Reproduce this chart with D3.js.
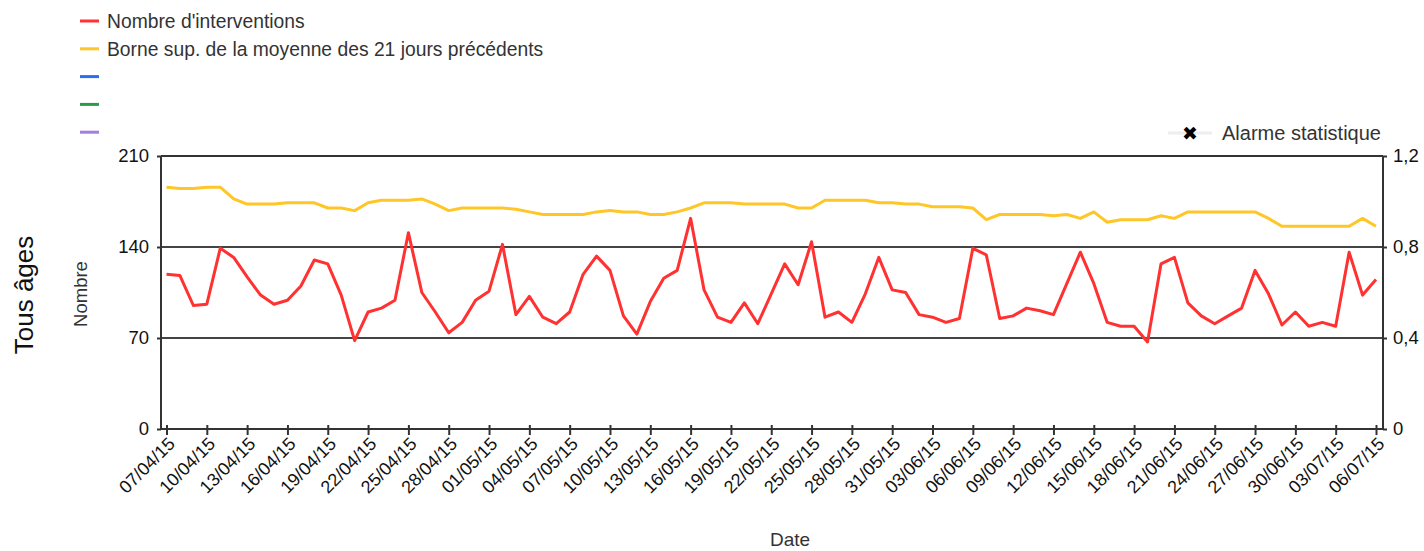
<!DOCTYPE html>
<meta charset="utf-8">
<head>
  <script src="https://d3js.org/d3.v7.min.js"></script>
  <style>
    html, body { margin: 0; padding: 0; background: #fff; }
    svg { display: block; font-family: "Liberation Sans", Arial, sans-serif; }
    .grid line { stroke: #444; stroke-width: 2; }
  </style>
</head>
<body>
<svg id="chart" width="1424" height="551"></svg>
<script>
  // daily values, 07/04/15 .. 06/07/15
  const startDate = new Date(2015, 3, 7)
  const interventions = [
    119, 118, 95, 96, 139, 132, 117, 103, 96, 99, 110, 130, 127, 103, 68, 90, 93, 99, 151, 105,
    90, 74, 82, 99, 106, 142, 88, 102, 86, 81, 90, 119, 133, 122, 87, 73, 98, 116, 122, 162,
    107, 86, 82, 97, 81, 104, 127, 111, 144, 86, 90, 82, 104, 132, 107, 105, 88, 86, 82, 85,
    139, 134, 85, 87, 93, 91, 88, 112, 136, 112, 82, 79, 79, 67, 127, 132, 97, 87, 81, 87,
    93, 122, 104, 80, 90, 79, 82, 79, 136, 103, 115
  ]
  const borneSup = [
    186, 185, 185, 186, 186, 177, 173, 173, 173, 174, 174, 174, 170, 170, 168, 174, 176, 176, 176, 177,
    173, 168, 170, 170, 170, 170, 169, 167, 165, 165, 165, 165, 167, 168, 167, 167, 165, 165, 167, 170,
    174, 174, 174, 173, 173, 173, 173, 170, 170, 176, 176, 176, 176, 174, 174, 173, 173, 171, 171, 171,
    170, 161, 165, 165, 165, 165, 164, 165, 162, 167, 159, 161, 161, 161, 164, 162, 167, 167, 167, 167,
    167, 167, 162, 156, 156, 156, 156, 156, 156, 162, 156
  ]
  const leftTicks = [0, 70, 140, 210]
  const rightTicks = [0, 0.4, 0.8, 1.2]
  const legendItems = [
    { label: "Nombre d'interventions", color: "#ff3131" },
    { label: "Borne sup. de la moyenne des 21 jours précédents", color: "#ffc627" },
    { label: "", color: "#2a6ef0" },
    { label: "", color: "#2e9a48" },
    { label: "", color: "#a27ee0" }
  ]

  const dates = interventions.map((d, i) => d3.timeDay.offset(startDate, i))

  const svg = d3.select("#chart")
  const plot = { left: 161, right: 1383, top: 156, bottom: 429 }

  const x = d3.scaleTime()
    .domain([dates[0], dates[dates.length - 1]])
    .range([166.5, 1376])
  const y = d3.scaleLinear().domain([0, 210]).range([plot.bottom, plot.top])
  const y2 = d3.scaleLinear().domain([0, 1.2]).range([plot.bottom, plot.top])

  // gridlines
  svg.append("g").attr("class", "grid")
    .selectAll("line").data([70, 140]).enter().append("line")
    .attr("x1", plot.left).attr("x2", plot.right)
    .attr("y1", d => y(d)).attr("y2", d => y(d))

  // frame
  svg.append("line")
    .attr("x1", plot.left).attr("x2", plot.right)
    .attr("y1", plot.top).attr("y2", plot.top)
    .attr("stroke", "#333").attr("stroke-width", 2)

  const leftAxis = svg.append("g")
    .attr("transform", "translate(" + plot.left + ",0)")
    .call(d3.axisLeft(y).tickValues(leftTicks).tickSize(4).tickPadding(8))
  const rightAxis = svg.append("g")
    .attr("transform", "translate(" + plot.right + ",0)")
    .call(d3.axisRight(y2).tickValues(rightTicks).tickSize(4).tickPadding(6)
      .tickFormat(d => d === 0 ? "0" : d3.format(".1f")(d).replace(".", ",")))
  const bottomAxis = svg.append("g")
    .attr("transform", "translate(0," + plot.bottom + ")")
    .call(d3.axisBottom(x).tickValues(dates.filter((d, i) => i % 3 === 0))
      .tickSize(5)
      .tickFormat(d3.timeFormat("%d/%m/%y")))

  ;[leftAxis, rightAxis, bottomAxis].forEach(g => {
    g.selectAll(".domain").attr("stroke", "#333").attr("stroke-width", 2)
    g.selectAll(".tick line").attr("stroke", "#333").attr("stroke-width", 2)
    g.selectAll("text").attr("fill", "#111").style("font-size", "18.5px")
  })
  leftAxis.select(".domain").attr("d", "M0," + plot.bottom + "V" + plot.top)
  rightAxis.select(".domain").attr("d", "M0," + plot.bottom + "V" + plot.top)
  bottomAxis.select(".domain").attr("d", "M" + plot.left + ",0H" + plot.right)
  bottomAxis.selectAll(".tick line").attr("y1", -4).attr("y2", 6)
  bottomAxis.selectAll(".tick text")
    .style("font-size", "18px")
    .attr("text-anchor", "end")
    .attr("dy", null).attr("y", null)
    .attr("transform", "translate(9,16) rotate(-45)")

  // lines
  const line = d3.line().x((d, i) => x(dates[i])).y(d => y(d))
  svg.append("path").datum(borneSup)
    .attr("fill", "none").attr("stroke", legendItems[1].color).attr("stroke-width", 3)
    .attr("stroke-linejoin", "round").attr("d", line)
  svg.append("path").datum(interventions)
    .attr("fill", "none").attr("stroke", legendItems[0].color).attr("stroke-width", 3)
    .attr("stroke-linejoin", "round").attr("d", line)

  // legend
  const legend = svg.append("g").attr("transform", "translate(80,21)")
  legendItems.forEach((item, i) => {
    const g = legend.append("g").attr("transform", "translate(0," + (i * 27.8) + ")")
    g.append("line").attr("x1", 0).attr("x2", 19).attr("stroke", item.color).attr("stroke-width", 3)
    g.append("text").attr("x", 27).attr("dy", "0.35em")
      .attr("fill", "#333").style("font-size", "19.3px").text(item.label)
  })

  const alarm = svg.append("g").attr("transform", "translate(1190,133)")
  alarm.append("line").attr("x1", -22).attr("x2", 22).attr("stroke", "#eee").attr("stroke-width", 3)
  alarm.append("text").attr("text-anchor", "middle").attr("dy", "0.35em")
    .style("font-size", "19px").attr("fill", "#000").text("✖")
  alarm.append("text").attr("x", 32).attr("dy", "0.35em")
    .style("font-size", "20px").attr("fill", "#333").text("Alarme statistique")

  // axis titles
  svg.append("text")
    .attr("transform", "translate(33,295) rotate(-90)")
    .attr("text-anchor", "middle").style("font-size", "26px").attr("fill", "#111")
    .text("Tous âges")
  svg.append("text")
    .attr("transform", "translate(87,294) rotate(-90)")
    .attr("text-anchor", "middle").style("font-size", "18.5px").attr("fill", "#333")
    .text("Nombre")
  svg.append("text")
    .attr("x", 790).attr("y", 546)
    .attr("text-anchor", "middle").style("font-size", "19px").attr("fill", "#333")
    .text("Date")
</script>
</body>
